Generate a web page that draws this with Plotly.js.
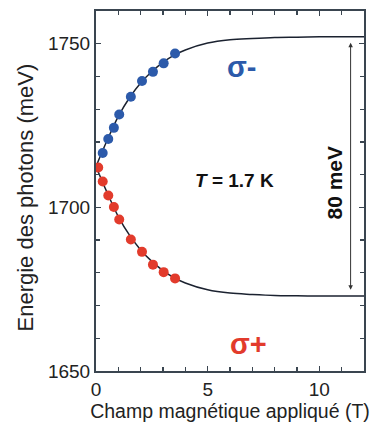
<!DOCTYPE html>
<html>
<head>
<meta charset="utf-8">
<script src="https://cdn.plot.ly/plotly-3.0.1.min.js"></script>
<style>html,body{margin:0;padding:0;background:#fff;}#chart{width:376px;height:423px;}</style>
</head>
<body>
<div id="chart"></div>
<script>
// Measured data (sigma- : blue, sigma+ : red)
const fieldSigmaMinus = [0.30, 0.55, 0.80, 1.04, 1.56, 2.06, 2.55, 3.03, 3.54];
const energySigmaMinus = [1716.6, 1720.9, 1724.3, 1728.4, 1733.8, 1738.6, 1741.4, 1744.0, 1747.0];
const fieldSigmaPlus = [0.10, 0.30, 0.55, 0.80, 1.04, 1.56, 2.06, 2.55, 3.03, 3.54];
const energySigmaPlus = [1712.2, 1707.9, 1703.6, 1700.1, 1696.3, 1690.2, 1686.4, 1682.5, 1680.2, 1678.3];
// Fit curves
const fitField = [0, 0.5, 1, 1.5, 2, 2.5, 3, 3.5, 4, 5, 6, 7, 8, 9, 10, 11, 12];
const fitUpper = [1712.5, 1720.5, 1727.8, 1733.5, 1738.0, 1741.5, 1744.3, 1746.5, 1748.1, 1750.2, 1751.2, 1751.6, 1751.9, 1752.0, 1752.1, 1752.1, 1752.1];
const fitLower = [1712.5, 1704.5, 1697.2, 1691.5, 1687.0, 1683.5, 1680.7, 1678.5, 1676.9, 1674.8, 1673.8, 1673.4, 1673.1, 1673.0, 1672.9, 1672.9, 1672.9];
// Axis ranges and splitting arrow ends
const xRange = [0, 12];
const yRange = [1650, 1760];
const arrowField = 11.4;
const arrowTop = 1750.3;
const arrowBottom = 1674.4;

const FONT = 'Arial, "Liberation Sans", sans-serif';
const AX = '#3a4550';
const BLUE = '#2c5aaa';
const RED = '#e23b2c';

const traces = [
  {x: fitField, y: fitUpper, mode: 'lines', line: {color: '#1b2230', width: 1.5, shape: 'spline'}, hoverinfo: 'skip'},
  {x: fitField, y: fitLower, mode: 'lines', line: {color: '#1b2230', width: 1.5, shape: 'spline'}, hoverinfo: 'skip'},
  {x: fieldSigmaMinus, y: energySigmaMinus, mode: 'markers', cliponaxis: true, marker: {color: BLUE, size: 10}},
  {x: fieldSigmaPlus, y: energySigmaPlus, mode: 'markers', cliponaxis: true, marker: {color: RED, size: 10}},
  // invisible trace carrying the mirrored (top/right) tick axes
  {x: xRange, y: yRange, xaxis: 'x2', yaxis: 'y2', mode: 'markers', marker: {opacity: 0}, hoverinfo: 'skip'}
];

const tickCommon = {ticks: 'inside', ticklen: 5, tickwidth: 1.5, tickcolor: AX, showgrid: false, zeroline: false};
const minorX = {dtick: 1, ticks: 'inside', ticklen: 4, tickcolor: AX, tickwidth: 1.2, showgrid: false};
const minorY = {dtick: 10, ticks: 'inside', ticklen: 4, tickcolor: AX, tickwidth: 1.2, showgrid: false};

const layout = {
  width: 376, height: 423,
  margin: {l: 96, r: 12, t: 11, b: 52},
  paper_bgcolor: '#fff', plot_bgcolor: '#fff',
  showlegend: false,
  xaxis: Object.assign({}, tickCommon, {
    range: xRange, dtick: 5, tick0: 0, minor: minorX,
    showline: true, linecolor: AX, linewidth: 2, mirror: true,
    tickfont: {family: FONT, size: 19, color: '#222'},
    title: {text: 'Champ magnétique appliqué (T)', font: {family: FONT, size: 19.5, color: '#222'}, standoff: 4}
  }),
  yaxis: Object.assign({}, tickCommon, {
    range: yRange, dtick: 50, tick0: 1650, minor: minorY,
    showline: true, linecolor: AX, linewidth: 2, mirror: true,
    tickfont: {family: FONT, size: 19, color: '#222'}
  }),
  xaxis2: Object.assign({}, tickCommon, {
    range: xRange, dtick: 5, tick0: 0, minor: minorX, overlaying: 'x', side: 'top',
    showticklabels: false, showline: false
  }),
  yaxis2: Object.assign({}, tickCommon, {
    range: yRange, dtick: 50, tick0: 1650, minor: minorY, overlaying: 'y', side: 'right',
    showticklabels: false, showline: false
  }),
  annotations: [
    {xref: 'paper', yref: 'paper', x: (25 - 96) / 268, y: (372 - 198) / 361, text: 'Energie des photons (meV)', showarrow: false, textangle: -90,
     font: {family: FONT, size: 22, color: '#222'}, xanchor: 'center', yanchor: 'middle'},
    {xref: 'paper', yref: 'paper', x: (242 - 96) / 268, y: (372 - 67) / 361, text: '<b>σ-</b>', showarrow: false,
     font: {family: FONT, size: 29, color: BLUE}, xanchor: 'center', yanchor: 'middle'},
    {xref: 'paper', yref: 'paper', x: (248 - 96) / 268, y: (372 - 345) / 361, text: '<b>σ+</b>', showarrow: false,
     font: {family: FONT, size: 29, color: RED}, xanchor: 'center', yanchor: 'middle'},
    {xref: 'paper', yref: 'paper', x: (234 - 96) / 268, y: (372 - 181) / 361, text: '<b><i>T</i> = 1.7 K</b>', showarrow: false,
     font: {family: FONT, size: 19, color: '#111'}, xanchor: 'center', yanchor: 'middle'},
    {xref: 'paper', yref: 'paper', x: (335 - 96) / 268, y: (372 - 183) / 361, text: '<b>80 meV</b>', showarrow: false, textangle: -90,
     font: {family: FONT, size: 21, color: '#111'}, xanchor: 'center', yanchor: 'middle'},
    {xref: 'x', yref: 'y', axref: 'x', ayref: 'y', x: arrowField, y: arrowTop, ax: arrowField, ay: arrowBottom,
     text: '', showarrow: true, arrowhead: 2, startarrowhead: 2, arrowside: 'end+start', arrowsize: 0.9, arrowwidth: 1, arrowcolor: '#333'}
  ]
};

Plotly.newPlot('chart', traces, layout, {staticPlot: true, displayModeBar: false});
</script>
</body>
</html>
